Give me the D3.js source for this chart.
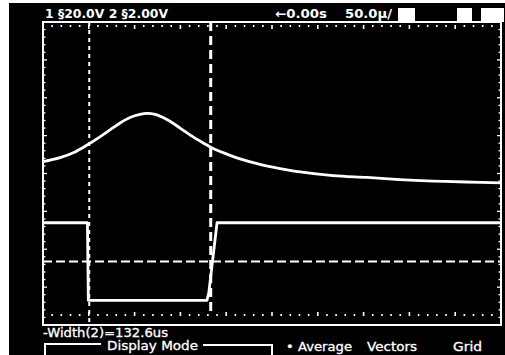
<!DOCTYPE html>
<html>
<head>
<meta charset="utf-8">
<script src="https://cdn.jsdelivr.net/npm/d3@7"></script>
<style>
  html, body { margin: 0; padding: 0; background: #fff; }
  svg { display: block; }
  text { fill: #fff; font-family: "DejaVu Sans", sans-serif; }
</style>
</head>
<body>
<svg id="scope" width="505" height="355"></svg>
<script>
// Channel 1: time (µs) and voltage (V), 20 V/div
const ch1Time = [0, 18.6, 34.9, 49.1, 62.2, 73.1, 84.1, 95.0, 105.9, 113.5, 122.3, 133.2, 144.1, 155.0, 165.9, 176.9, 184.5, 198.7, 215.1, 236.9, 258.7, 280.6, 316.6, 353.7, 389.7, 425.8, 461.8, 500];
const ch1Volts = [6.3, 8.4, 11.4, 15.3, 19.3, 23.0, 26.7, 29.6, 31.2, 31.7, 31.2, 29.0, 25.9, 22.2, 18.7, 15.6, 13.5, 10.6, 7.7, 4.8, 2.6, 0.8, -1.1, -2.1, -3.2, -4.0, -4.5, -5.0];

// Channel 2: pulse, 2 V/div
const ch2Time = [0, 48.5, 49.5, 179, 181, 190, 500];
const ch2Volts = [-2.6, -2.6, -6.7, -6.7, -6.3, -2.6, -2.6];

// Cursors: two time markers and one voltage marker on channel 2
const timeCursors = [50.5, 183.1];
const voltCursor = -4.65;

// Status line and menu texts
const headerLabels = ["1 §20.0V 2 §2.00V", "\u21900.00s", "50.0\u00b5/"];
const measurement = "-Width(2)=132.6us";
const menuTitle = "Display Mode";
const menuItems = ["\u2022 Average", "Vectors", "Grid"];

const svg = d3.select("#scope");

// Screen
svg.append("rect").attr("x", 9).attr("y", 3).attr("width", 496).attr("height", 352).attr("fill", "#000");

const plot = { left: 43, right: 501, top: 22, bottom: 325 };
const x = d3.scaleLinear().domain([0, 500]).range([plot.left, plot.right]);
const y1 = d3.scaleLinear().domain([-80, 80]).range([plot.bottom, plot.top]);
const y2 = d3.scaleLinear().domain([-8, 8]).range([plot.bottom, plot.top]);
const yDiv = d3.scaleLinear().domain([-4, 4]).range([plot.bottom, plot.top]);

// Graticule border
svg.append("rect")
  .attr("x", plot.left).attr("y", plot.top)
  .attr("width", plot.right - plot.left).attr("height", plot.bottom - plot.top)
  .attr("fill", "none").attr("stroke", "#fff").attr("stroke-width", 2);

// Edge tick marks: minor every 1/5 division, major on divisions
const hTicks = d3.range(0, 501, 10);
const g = svg.append("g").attr("stroke", "#fff");
hTicks.forEach(t => {
  const major = t % 50 === 0;
  const len = major ? 4 : 2;
  g.append("line").attr("x1", x(t)).attr("x2", x(t))
    .attr("y1", plot.top + 3).attr("y2", plot.top + 3 + len).attr("stroke-width", 1.6);
  g.append("line").attr("x1", x(t)).attr("x2", x(t))
    .attr("y1", plot.bottom - 9 - len).attr("y2", plot.bottom - 9).attr("stroke-width", 1.6);
});
const vTicks = d3.range(-4, 4.01, 0.2);
vTicks.forEach(d => {
  const major = Math.abs(d - Math.round(d)) < 1e-6;
  const len = major ? 4 : 2.5;
  g.append("line").attr("x1", plot.left).attr("x2", plot.left + len)
    .attr("y1", yDiv(d)).attr("y2", yDiv(d)).attr("stroke-width", 1.3);
  g.append("line").attr("x1", plot.right - len).attr("x2", plot.right)
    .attr("y1", yDiv(d)).attr("y2", yDiv(d)).attr("stroke-width", 1.3);
});

// Cursors
svg.append("line")
  .attr("x1", x(timeCursors[0])).attr("x2", x(timeCursors[0]))
  .attr("y1", plot.top).attr("y2", plot.bottom)
  .attr("stroke", "#fff").attr("stroke-width", 2).attr("stroke-dasharray", "4 4");
svg.append("line")
  .attr("x1", x(timeCursors[1])).attr("x2", x(timeCursors[1]))
  .attr("y1", plot.top).attr("y2", plot.bottom - 14)
  .attr("stroke", "#fff").attr("stroke-width", 3).attr("stroke-dasharray", "9 5");
svg.append("line")
  .attr("x1", plot.left).attr("x2", plot.right)
  .attr("y1", y2(voltCursor)).attr("y2", y2(voltCursor))
  .attr("stroke", "#fff").attr("stroke-width", 2).attr("stroke-dasharray", "9 4");

// Traces
const line1 = d3.line().x((d, i) => x(ch1Time[i])).y(d => y1(d)).curve(d3.curveCatmullRom.alpha(0.5));
svg.append("path").attr("d", line1(ch1Volts))
  .attr("fill", "none").attr("stroke", "#fff").attr("stroke-width", 2.8);

const line2 = d3.line().x((d, i) => x(ch2Time[i])).y(d => y2(d));
svg.append("path").attr("d", line2(ch2Volts))
  .attr("fill", "none").attr("stroke", "#fff").attr("stroke-width", 2.8)
  .attr("stroke-linejoin", "round");

// Status line
const hdr = [
  { x: 45, w: 123 },
  { x: 275, w: 52 },
  { x: 345, w: 47 }
];
headerLabels.forEach((s, i) => {
  svg.append("text").attr("x", hdr[i].x).attr("y", 18)
    .attr("font-size", 12.5).attr("font-weight", "bold")
    .attr("textLength", hdr[i].w).attr("lengthAdjust", "spacingAndGlyphs")
    .text(s);
});
// Softkey indicator blocks
[[398, 17], [457, 15], [481, 23]].forEach(([bx, bw]) => {
  svg.append("rect").attr("x", bx).attr("y", 8).attr("width", bw).attr("height", 14).attr("fill", "#fff");
});

// Measurement readout
svg.append("text").attr("x", 43).attr("y", 337)
  .attr("font-size", 12).attr("textLength", 125).attr("lengthAdjust", "spacingAndGlyphs")
  .attr("stroke", "#fff").attr("stroke-width", 0.3)
  .text(measurement);

// Menu
svg.append("path").attr("d", "M45,355 V344 H101")
  .attr("fill", "none").attr("stroke", "#fff").attr("stroke-width", 2);
svg.append("path").attr("d", "M203,345 H272 V355")
  .attr("fill", "none").attr("stroke", "#fff").attr("stroke-width", 2);
svg.append("text").attr("x", 107).attr("y", 350)
  .attr("font-size", 12).attr("textLength", 91).attr("lengthAdjust", "spacingAndGlyphs")
  .attr("stroke", "#fff").attr("stroke-width", 0.3)
  .text(menuTitle);
const menuPos = [{ x: 286, w: 66 }, { x: 367, w: 50 }, { x: 453, w: 29 }];
menuItems.forEach((s, i) => {
  svg.append("text").attr("x", menuPos[i].x).attr("y", 351)
    .attr("font-size", 12).attr("textLength", menuPos[i].w).attr("lengthAdjust", "spacingAndGlyphs")
    .attr("stroke", "#fff").attr("stroke-width", 0.3)
    .text(s);
});
</script>
</body>
</html>
